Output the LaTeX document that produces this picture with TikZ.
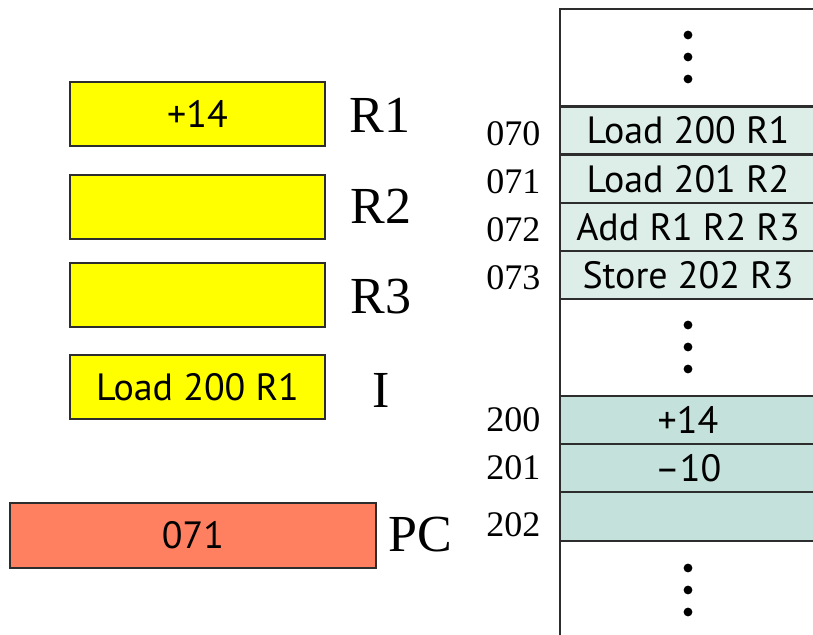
\documentclass[tikz,border=0pt]{standalone}
\usepackage{fontspec}
\setmainfont{Liberation Serif}
\newfontfamily\cellfont[Ligatures=TeX]{PT Sans}
\usetikzlibrary{positioning}

\definecolor{regyellow}{RGB}{255,255,0}
\definecolor{pcsalmon}{RGB}{255,128,96}
\definecolor{codecell}{RGB}{221,238,233}
\definecolor{datacell}{RGB}{197,225,219}
\definecolor{edge}{RGB}{45,45,45}

\begin{document}
\begin{tikzpicture}[x=0.5pt, y=-0.5pt,
	reg/.style={shape=rectangle, draw=edge, line width=1pt, fill=regyellow, minimum width=127.5pt, minimum height=32pt, inner sep=0pt, font=\cellfont\fontsize{19}{22}\selectfont},
	cell/.style={shape=rectangle, draw=edge, line width=1.3pt, minimum width=128pt, minimum height=24pt, inner sep=0pt, font=\cellfont\fontsize{19}{22}\selectfont},
	lbl/.style={font=\fontsize{26}{30}\selectfont},
	addr/.style={font=\fontsize{18}{20}\selectfont, inner sep=4pt}]
	\clip (0,0) rectangle (813,635);
	% Registers:
	\node[reg] (r1) at (197.5,114) {+14};
	\node[reg] (r2) at (197.5,207) {};
	\node[reg] (r3) at (197.5,295) {};
	\node[reg] (ir) at (197.5,387) {Load 200 R1};
	\node[reg, fill=pcsalmon, minimum width=183pt, minimum height=32.5pt] (pc) at (193,535.5) {071};
	\node[lbl] (lr1) at (380,115) {R1};
	\node[lbl] (lr2) at (381,206) {R2};
	\node[lbl] (lr3) at (381,297) {R3};
	\node[lbl] (lir) at (381,390) {I};
	\node[lbl] (lpc) at (420,535) {PC};
	% Memory column:
	\draw[edge, line width=1.3pt] (560,640) -- (560,9) -- (820,9);
	\node[cell, fill=codecell] (m070) at (688,130.5) {Load 200 R1};
	\node[cell, fill=codecell] (m071) at (688,179) {Load 201 R2};
	\node[cell, fill=codecell] (m072) at (688,227) {Add R1 R2 R3};
	\node[cell, fill=codecell] (m073) at (688,275) {Store 202 R3};
	\node[cell, fill=datacell] (m200) at (688,420) {+14};
	\node[cell, fill=datacell] (m201) at (688,468) {–10};
	\node[cell, fill=datacell, minimum height=24.5pt] (m202) at (688,516.5) {};
	\node[addr, left=5pt of m070, yshift=-1.5pt] {070};
	\node[addr, left=5pt of m071, yshift=-1.5pt] {071};
	\node[addr, left=5pt of m072, yshift=-1.5pt] {072};
	\node[addr, left=5pt of m073, yshift=-1.5pt] {073};
	\node[addr, left=5pt of m200] {200};
	\node[addr, left=5pt of m201] {201};
	\node[addr, left=5pt of m202, yshift=-4pt] {202};
	% Ellipsis dots
	\foreach \y in {35,57,79,325,347,369,568,590,612}
		\fill (688,\y) circle (2.2pt);
\end{tikzpicture}
\end{document}
